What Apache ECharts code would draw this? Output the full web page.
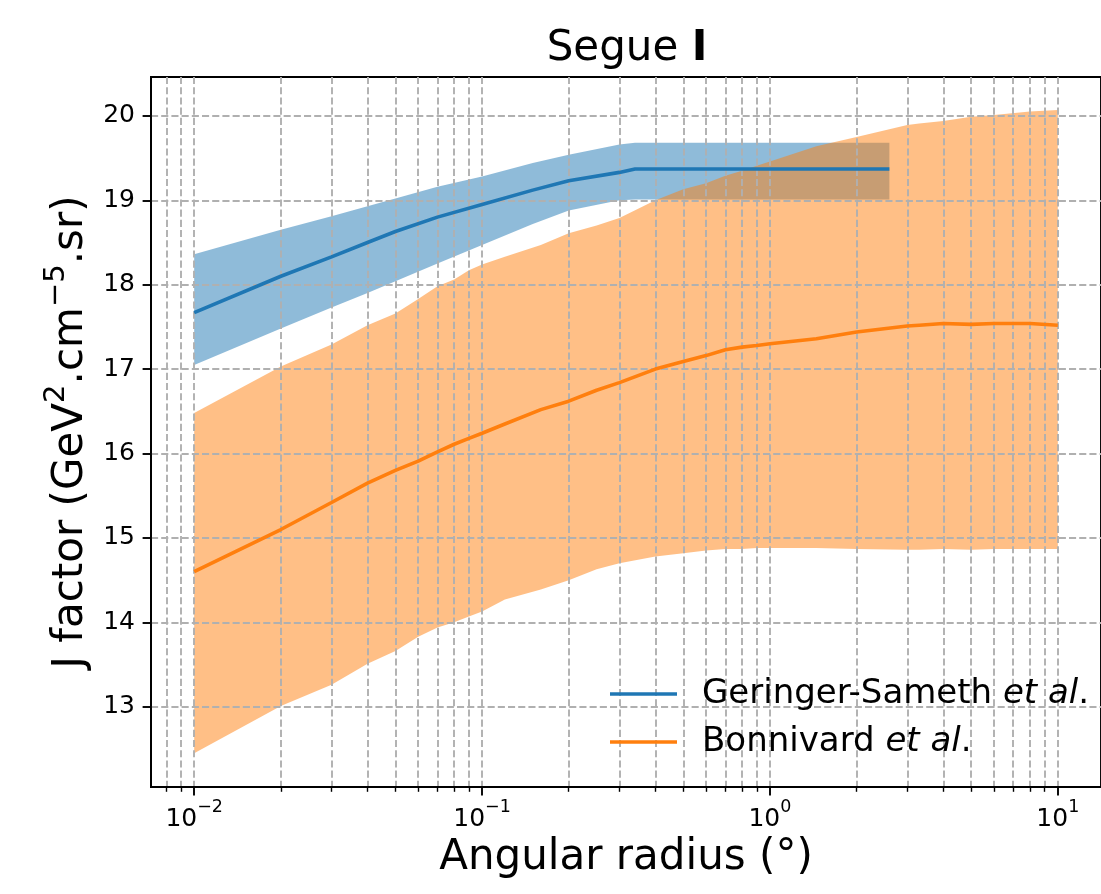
<!DOCTYPE html>
<html>
<head>
<meta charset="utf-8">
<script src="https://cdn.jsdelivr.net/npm/echarts@6/dist/echarts.min.js"></script>
<style>
  html, body { margin: 0; padding: 0; background: #fff; }
  #chart { width: 1101px; height: 894px; }
</style>
</head>
<body>
<div id="chart"></div>
<script>
// Segue I: J factor versus integration angle (degrees), two determinations.

// Geringer-Sameth et al.
const gsRadius = [0.01, 0.02, 0.03, 0.04, 0.05, 0.07, 0.1, 0.15, 0.2, 0.3, 0.34, 2.6];
const gsMedian = [17.67, 18.10, 18.33, 18.50, 18.63, 18.80, 18.95, 19.12, 19.23, 19.33, 19.37, 19.37];
const gsUpper  = [18.36, 18.65, 18.81, 18.93, 19.02, 19.16, 19.28, 19.44, 19.54, 19.66, 19.68, 19.68];
const gsLower  = [17.05, 17.48, 17.73, 17.90, 18.04, 18.25, 18.47, 18.72, 18.88, 19.00, 19.01, 19.01];

// Bonnivard et al.
const bvRadius = [0.01, 0.02, 0.03, 0.04, 0.05, 0.06, 0.07, 0.08, 0.09, 0.1, 0.12, 0.16, 0.2, 0.25, 0.3,
                  0.4, 0.5, 0.6, 0.7, 0.8, 0.9, 1, 1.45, 2, 3, 3.3, 4, 5, 6, 8, 10];
const bvMedian = [14.60, 15.10, 15.42, 15.65, 15.80, 15.91, 16.02, 16.11, 16.18, 16.24, 16.35, 16.52, 16.62, 16.75, 16.84,
                  17.00, 17.09, 17.16, 17.23, 17.26, 17.28, 17.30, 17.36, 17.44, 17.51, 17.52, 17.54, 17.53, 17.54, 17.54, 17.52];
const bvUpper  = [16.48, 17.03, 17.29, 17.52, 17.66, 17.83, 17.98, 18.06, 18.17, 18.24, 18.33, 18.47, 18.61, 18.70, 18.79,
                  19.00, 19.13, 19.20, 19.29, 19.35, 19.41, 19.46, 19.64, 19.75, 19.89, 19.91, 19.94, 19.99, 20.01, 20.05, 20.07];
const bvLower  = [12.45, 13.01, 13.26, 13.51, 13.66, 13.83, 13.94, 14.00, 14.07, 14.13, 14.27, 14.39, 14.50, 14.63, 14.70,
                  14.78, 14.82, 14.85, 14.87, 14.87, 14.88, 14.88, 14.88, 14.87, 14.86, 14.86, 14.87, 14.86, 14.87, 14.87, 14.87];

// Axis ticks
const xMajorTicks = [0.01, 0.1, 1, 10];
const xMinorTicks = [0.008, 0.009,
                     0.02, 0.03, 0.04, 0.05, 0.06, 0.07, 0.08, 0.09,
                     0.2, 0.3, 0.4, 0.5, 0.6, 0.7, 0.8, 0.9,
                     2, 3, 4, 5, 6, 7, 8, 9];
const yTicks = [13, 14, 15, 16, 17, 18, 19, 20];

const X_MIN = Math.pow(10, -2.15);
const X_MAX = Math.pow(10, 1.15);
const Y_MIN = 12.05;
const Y_MAX = 20.46;

const FONT = 'DejaVu Sans';
const BLUE = '#1f77b4';
const ORANGE = '#ff7f0e';
const GRID_LINE = { color: '#b0b0b0', width: 1.9, type: [7.1, 3.1] };

// Shaded band between lower and upper curves, drawn as one polygon.
function band(name, xs, lo, hi, fill) {
  return {
    type: 'custom',
    name: name,
    silent: true,
    z: 2,
    data: xs.map((x, i) => [x, lo[i], hi[i]]),
    encode: { x: 0, y: [1, 2] },
    renderItem: function (params, api) {
      if (params.dataIndex !== 0) return null;
      const pts = [];
      for (let i = 0; i < xs.length; i++) pts.push(api.coord([xs[i], hi[i]]));
      for (let i = xs.length - 1; i >= 0; i--) pts.push(api.coord([xs[i], lo[i]]));
      return { type: 'polygon', shape: { points: pts }, style: { fill: fill } };
    }
  };
}

function medianLine(name, xs, ys, color) {
  return {
    type: 'line',
    name: name,
    silent: true,
    z: 5,
    data: xs.map((x, i) => [x, ys[i]]),
    symbol: 'none',
    showSymbol: false,
    lineStyle: { color: color, width: 3.6 },
    itemStyle: { color: color },
    emphasis: { disabled: true }
  };
}

function powLabel(v) {
  const e = Math.round(Math.log10(v));
  return '{b|10}{s|' + (e < 0 ? '\u2212' + (-e) : String(e)) + '}';
}

const chart = echarts.init(document.getElementById('chart'), null, { renderer: 'canvas' });

chart.setOption({
  animation: false,
  backgroundColor: '#ffffff',
  title: {
    text: '{a|Segue }{b|I}',
    left: 627,
    top: 28,
    textAlign: 'center',
    padding: 0,
    textStyle: {
      rich: {
        a: { fontFamily: FONT, fontSize: 42, color: '#000', fontWeight: 'normal' },
        b: { fontFamily: FONT, fontSize: 42, color: '#000', fontWeight: 'bold' }
      }
    }
  },
  legend: {
    data: ['Geringer-Sameth et al.', 'Bonnivard et al.'],
    orient: 'vertical',
    left: 610,
    top: 677,
    icon: 'rect',
    itemWidth: 67,
    itemHeight: 3.6,
    itemGap: 14,
    selectedMode: false,
    padding: 0,
    formatter: function (name) {
      const base = name.replace(' et al.', '');
      return '{g| }{n|' + base + ' }{i|et al}{n|.}';
    },
    textStyle: {
      rich: {
        g: { width: 20, fontSize: 34, lineHeight: 40 },
        n: { fontFamily: FONT, fontSize: 34, color: '#000', lineHeight: 40 },
        i: { fontFamily: FONT, fontSize: 34, color: '#000', lineHeight: 40, fontStyle: 'italic' }
      }
    }
  },
  grid: {
    left: 151, top: 77, width: 952, height: 710,
    show: true, borderColor: '#000', borderWidth: 1.9, backgroundColor: 'transparent'
  },
  xAxis: [
    {
      type: 'log', logBase: 10, min: X_MIN, max: X_MAX, z: 3,
      position: 'bottom',
      axisLine: { show: true, onZero: false, lineStyle: { color: '#000', width: 1.9 } },
      axisTick: { show: true, customValues: xMajorTicks, length: 8.4, lineStyle: { color: '#000', width: 1.9 } },
      axisLabel: {
        customValues: xMajorTicks,
        margin: 11,
        formatter: powLabel,
        rich: {
          b: { fontFamily: FONT, fontSize: 25, color: '#000', lineHeight: 34, verticalAlign: 'bottom' },
          s: { fontFamily: FONT, fontSize: 17.5, color: '#000', lineHeight: 20, verticalAlign: 'top' }
        }
      },
      splitLine: { show: true, lineStyle: GRID_LINE },
      name: 'Angular radius (°)',
      nameLocation: 'middle',
      nameGap: 47,
      nameTextStyle: { fontFamily: FONT, fontSize: 42, color: '#000' }
    },
    {
      type: 'log', logBase: 10, min: X_MIN, max: X_MAX, z: 3,
      position: 'bottom',
      axisLine: { show: false },
      axisTick: { show: true, customValues: xMinorTicks, length: 4.8, lineStyle: { color: '#000', width: 1.4 } },
      axisLabel: { show: false },
      splitLine: { show: true, lineStyle: GRID_LINE }
    }
  ],
  yAxis: {
    type: 'value', min: Y_MIN, max: Y_MAX, z: 3,
    axisLine: { show: true, onZero: false, lineStyle: { color: '#000', width: 1.9 } },
    axisTick: { show: true, customValues: yTicks, length: 8.4, lineStyle: { color: '#000', width: 1.9 } },
    axisLabel: { customValues: yTicks, margin: 16, fontFamily: FONT, fontSize: 25, color: '#000' },
    splitLine: { show: true, lineStyle: GRID_LINE },
    name: '{n|J factor (GeV}{s|2}{n|.cm}{s|\u22125}{n|.sr)}',
    nameLocation: 'middle',
    nameGap: 56,
    nameTextStyle: {
      rich: {
        n: { fontFamily: FONT, fontSize: 42, color: '#000', lineHeight: 50, verticalAlign: 'bottom' },
        s: { fontFamily: FONT, fontSize: 29, color: '#000', lineHeight: 30, verticalAlign: 'top' }
      }
    }
  },
  series: [
    band('Geringer-Sameth band', gsRadius, gsLower, gsUpper, 'rgba(31,119,180,0.5)'),
    band('Bonnivard band', bvRadius, bvLower, bvUpper, 'rgba(255,127,14,0.5)'),
    medianLine('Geringer-Sameth et al.', gsRadius, gsMedian, BLUE),
    medianLine('Bonnivard et al.', bvRadius, bvMedian, ORANGE)
  ]
});
</script>
</body>
</html>
